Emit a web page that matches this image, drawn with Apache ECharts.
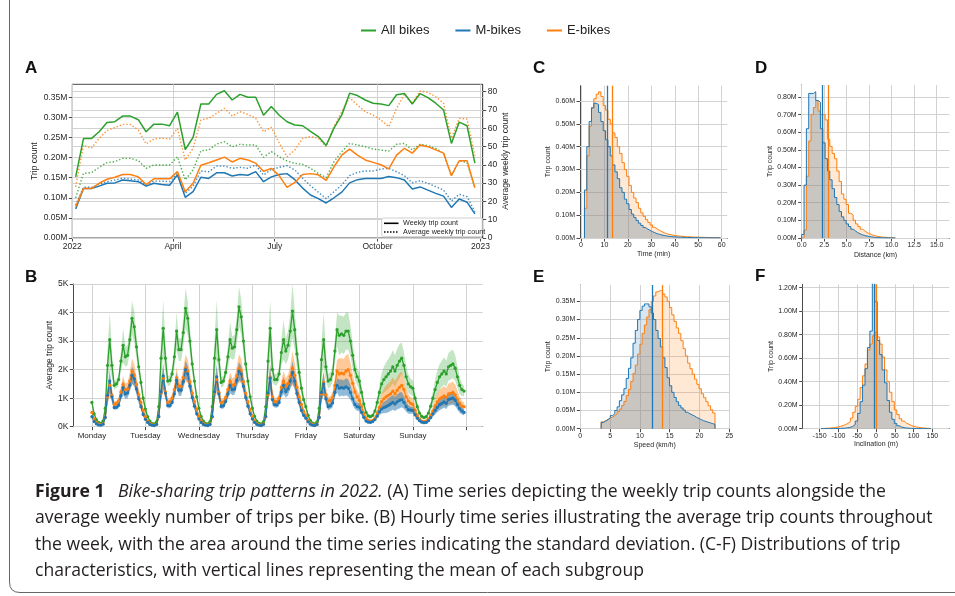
<!DOCTYPE html>
<html><head><meta charset="utf-8">
<script src="https://cdn.jsdelivr.net/npm/echarts@6.0.0/dist/echarts.min.js"></script>
<style>html,body{margin:0;padding:0;background:#fff}#c{width:955px;height:596px}</style>
</head><body><div id="c"></div>
<script>
// ---------------- Panel A: weekly series (week starting day offsets from 2022-01-01) ----------------
const weekFirstDay = 3;
const weekStepDays = 7;
const allWeekly = [0.152,0.247,0.247,0.264,0.287,0.289,0.303,0.303,0.294,0.264,0.283,0.283,0.279,0.313,0.220,0.250,0.333,0.333,0.357,0.366,0.343,0.357,0.350,0.350,0.305,0.327,0.305,0.289,0.281,0.279,0.265,0.252,0.230,0.273,0.306,0.360,0.354,0.343,0.335,0.333,0.329,0.356,0.359,0.333,0.359,0.349,0.335,0.318,0.235,0.288,0.279,0.186];
const mWeekly = [0.072,0.123,0.123,0.129,0.136,0.137,0.144,0.142,0.140,0.129,0.136,0.133,0.131,0.157,0.101,0.115,0.151,0.148,0.162,0.162,0.154,0.158,0.156,0.165,0.140,0.152,0.158,0.160,0.145,0.124,0.107,0.098,0.087,0.100,0.114,0.137,0.145,0.148,0.148,0.148,0.153,0.150,0.144,0.122,0.127,0.119,0.111,0.104,0.076,0.097,0.089,0.060];
const eWeekly = [0.078,0.123,0.123,0.136,0.146,0.151,0.158,0.158,0.152,0.133,0.147,0.147,0.147,0.165,0.115,0.136,0.181,0.187,0.194,0.201,0.189,0.198,0.194,0.186,0.166,0.173,0.155,0.126,0.138,0.158,0.160,0.157,0.143,0.177,0.206,0.221,0.206,0.194,0.188,0.182,0.172,0.206,0.223,0.211,0.231,0.227,0.219,0.211,0.155,0.192,0.192,0.125];
const allAvg = [22,35.3,35.7,38.6,41.2,41.7,43.5,43.5,42.3,38.1,39.9,39.9,39.9,44.4,31.7,37.2,47.7,48.1,51.4,52.6,49.9,51.2,50.8,50.8,44.1,47.2,44.4,42.1,40.8,40.3,38.1,35.3,33.0,41.7,47.2,51.7,50.8,49.9,48.6,48.1,47.5,51.2,51.7,48.1,51.2,50.5,49.0,46.3,34.1,42.1,41.3,27.5];
const mAvg = [18,27.7,27.7,29.3,30.8,31.7,32.6,32.2,31.7,29.0,31.1,31.1,30.8,35.3,24.4,28.4,36.6,36.2,39.3,39.3,38.1,38.6,38.1,39.9,34.4,37.5,38.6,39.5,37.2,32.6,28.6,25.0,21.5,25.3,29.0,34.1,35.9,36.6,36.6,37.7,38.1,36.2,34.1,30.2,31.3,29.9,28.1,26.2,20.2,23.9,22.6,14.4];
const eAvg = [28,50.8,49.0,54.5,58.7,60.3,62.1,62.1,59.0,51.4,54.1,54.5,54.1,59.9,42.6,49.0,64.5,65.4,68.1,70.9,66.7,69.0,67.6,65.4,58.1,60.5,52,44.4,48.1,54.5,55.4,54.5,49.9,60.8,69.0,76.7,72.7,69.0,67.2,64.5,60.8,70.9,78.5,73.6,80.3,79.6,77.2,73.6,54.5,65.4,65.0,45];
const aMonthTicks = [0,90,181,273,365];
const aMonthLabels = ['2022','April','July','October','2023'];
const aLeftTicks = [0,0.05,0.10,0.15,0.20,0.25,0.30,0.35];
const aRightTicks = [0,10,20,30,40,50,60,70,80];

// ---------------- Panel B: hourly averages over the week (thousands) ----------------
const dayNames = ['Monday','Tuesday','Wednesday','Thursday','Friday','Saturday','Sunday'];
const dayTickHours = [0,24,48,72,96,120,144,168];
const bYTicks = [0,1,2,3,4,5];
const allHourly = [
0.85,0.45,0.25,0.15,0.12,0.20,0.65,2.15,3.05,2.15,1.45,1.50,1.65,2.30,2.85,2.45,2.50,3.05,3.80,3.50,2.80,2.10,1.55,1.00,
0.62,0.35,0.20,0.12,0.10,0.17,0.70,2.40,3.45,2.40,1.60,1.62,1.85,2.45,3.35,2.70,2.70,3.30,4.15,3.80,3.00,2.20,1.60,1.05,
0.65,0.36,0.20,0.12,0.10,0.18,0.70,2.40,3.40,2.35,1.55,1.60,1.90,2.45,3.05,2.75,2.80,3.40,4.20,3.85,3.00,2.20,1.60,1.05,
0.65,0.36,0.20,0.12,0.10,0.18,0.70,2.30,3.45,2.00,1.65,1.65,1.85,2.60,3.05,2.65,2.85,3.35,4.05,3.40,2.55,1.90,1.35,0.95,
0.70,0.40,0.22,0.13,0.10,0.17,0.65,2.35,3.05,2.10,1.60,1.65,1.85,2.65,3.40,3.20,3.25,3.20,3.35,3.35,3.00,2.50,2.00,1.75,
1.60,1.20,0.80,0.50,0.38,0.35,0.40,0.55,0.85,1.20,1.50,1.65,1.75,1.85,1.95,2.10,1.95,2.15,2.30,2.40,2.15,1.75,1.50,1.40,
1.35,1.00,0.70,0.48,0.36,0.32,0.35,0.48,0.72,1.00,1.30,1.55,1.75,1.85,1.95,1.85,2.10,2.15,2.20,2.05,1.75,1.45,1.30,1.25];
const eHourly = [
0.50,0.27,0.15,0.09,0.07,0.10,0.32,1.05,1.45,1.10,0.78,0.82,0.90,1.22,1.48,1.30,1.32,1.60,1.95,1.82,1.48,1.12,0.85,0.57,
0.36,0.20,0.12,0.07,0.06,0.09,0.34,1.18,1.70,1.22,0.86,0.88,1.00,1.30,1.72,1.42,1.42,1.72,2.05,1.95,1.58,1.18,0.88,0.60,
0.37,0.21,0.12,0.07,0.06,0.10,0.34,1.18,1.65,1.20,0.84,0.87,1.02,1.30,1.60,1.45,1.48,1.78,2.05,1.95,1.58,1.18,0.88,0.60,
0.37,0.21,0.12,0.07,0.06,0.10,0.34,1.12,1.75,1.05,0.88,0.88,1.00,1.38,1.60,1.42,1.52,1.75,2.05,1.80,1.38,1.05,0.78,0.55,
0.40,0.23,0.13,0.08,0.06,0.09,0.32,1.15,1.55,1.12,0.90,0.92,1.02,1.45,1.95,1.85,1.88,1.85,1.95,2.00,1.80,1.52,1.22,1.05,
0.92,0.70,0.47,0.30,0.22,0.20,0.22,0.30,0.48,0.68,0.88,0.98,1.05,1.10,1.15,1.25,1.15,1.28,1.38,1.45,1.30,1.05,0.90,0.82,
0.78,0.58,0.40,0.27,0.20,0.18,0.20,0.27,0.40,0.55,0.73,0.87,0.98,1.03,1.08,1.03,1.15,1.17,1.20,1.12,0.97,0.82,0.72,0.70];
const mHourly = [
0.35,0.18,0.10,0.06,0.05,0.09,0.33,1.10,1.60,1.05,0.67,0.68,0.75,1.08,1.37,1.15,1.18,1.45,1.80,1.68,1.32,0.98,0.70,0.43,
0.26,0.15,0.08,0.05,0.04,0.08,0.36,1.22,1.78,1.18,0.74,0.74,0.85,1.15,1.63,1.28,1.28,1.58,2.00,1.85,1.42,1.02,0.72,0.45,
0.27,0.15,0.08,0.05,0.04,0.08,0.36,1.22,1.75,1.15,0.71,0.73,0.88,1.15,1.45,1.30,1.32,1.62,1.95,1.85,1.42,1.02,0.72,0.45,
0.27,0.15,0.08,0.05,0.04,0.08,0.36,1.18,1.70,0.95,0.77,0.76,0.85,1.22,1.45,1.23,1.33,1.60,1.90,1.60,1.17,0.85,0.57,0.40,
0.30,0.17,0.09,0.05,0.04,0.08,0.33,1.20,1.50,0.98,0.70,0.73,0.83,1.20,1.45,1.35,1.37,1.35,1.40,1.35,1.20,0.98,0.78,0.70,
0.68,0.50,0.33,0.20,0.16,0.15,0.18,0.25,0.37,0.52,0.62,0.67,0.70,0.75,0.80,0.85,0.80,0.87,0.92,0.95,0.85,0.70,0.60,0.58,
0.57,0.42,0.30,0.21,0.16,0.14,0.15,0.21,0.32,0.45,0.57,0.68,0.77,0.82,0.87,0.82,0.95,0.98,1.00,0.93,0.78,0.63,0.55,0.50];
const allStd = [
0.10,0.06,0.04,0.03,0.03,0.05,0.15,0.55,0.95,0.45,0.15,0.15,0.18,0.35,0.60,0.35,0.35,0.45,0.60,0.55,0.40,0.30,0.22,0.15,
0.08,0.05,0.03,0.02,0.02,0.05,0.18,0.65,1.00,0.50,0.18,0.18,0.22,0.40,0.65,0.40,0.40,0.50,0.70,0.60,0.45,0.32,0.22,0.15,
0.08,0.05,0.03,0.02,0.02,0.05,0.18,0.65,1.05,0.50,0.18,0.18,0.22,0.40,0.62,0.40,0.42,0.50,0.70,0.62,0.45,0.32,0.22,0.15,
0.08,0.05,0.03,0.02,0.02,0.05,0.18,0.65,1.00,0.45,0.20,0.20,0.24,0.45,0.70,0.45,0.50,0.60,0.95,0.70,0.50,0.35,0.25,0.18,
0.10,0.06,0.04,0.03,0.02,0.05,0.16,0.60,0.95,0.50,0.25,0.25,0.30,0.40,0.60,0.70,0.65,0.65,0.65,0.65,0.55,0.45,0.35,0.30,
0.30,0.25,0.18,0.12,0.08,0.06,0.07,0.10,0.18,0.28,0.38,0.45,0.50,0.52,0.55,0.58,0.55,0.58,0.60,0.55,0.45,0.38,0.32,0.28,
0.28,0.22,0.16,0.10,0.07,0.06,0.07,0.10,0.16,0.25,0.35,0.42,0.45,0.46,0.48,0.45,0.48,0.50,0.50,0.45,0.38,0.30,0.22,0.18];
const eStd = [
0.07,0.04,0.03,0.02,0.02,0.03,0.08,0.25,0.38,0.22,0.10,0.10,0.12,0.20,0.30,0.22,0.22,0.30,0.45,0.38,0.28,0.20,0.14,0.10,
0.06,0.04,0.02,0.02,0.01,0.03,0.09,0.30,0.45,0.25,0.12,0.12,0.15,0.22,0.35,0.25,0.25,0.32,0.48,0.40,0.30,0.22,0.15,0.10,
0.06,0.04,0.02,0.02,0.01,0.03,0.09,0.30,0.45,0.25,0.12,0.12,0.15,0.22,0.32,0.25,0.26,0.32,0.50,0.42,0.30,0.22,0.15,0.10,
0.06,0.04,0.02,0.02,0.01,0.03,0.09,0.30,0.45,0.25,0.13,0.13,0.16,0.25,0.35,0.28,0.30,0.38,0.60,0.45,0.32,0.24,0.17,0.12,
0.07,0.04,0.03,0.02,0.01,0.03,0.08,0.28,0.42,0.25,0.15,0.16,0.20,0.28,0.40,0.55,0.52,0.52,0.55,0.55,0.45,0.35,0.28,0.24,
0.22,0.18,0.12,0.08,0.05,0.04,0.05,0.07,0.12,0.20,0.28,0.35,0.40,0.42,0.45,0.48,0.45,0.47,0.50,0.48,0.40,0.32,0.25,0.22,
0.20,0.15,0.10,0.07,0.05,0.04,0.05,0.07,0.11,0.17,0.24,0.30,0.32,0.33,0.35,0.32,0.36,0.37,0.38,0.35,0.30,0.24,0.18,0.15];
const mStd = [
0.05,0.03,0.02,0.01,0.01,0.02,0.08,0.28,0.40,0.20,0.08,0.08,0.10,0.16,0.25,0.18,0.18,0.22,0.30,0.26,0.20,0.15,0.10,0.07,
0.04,0.03,0.02,0.01,0.01,0.02,0.09,0.32,0.45,0.22,0.09,0.09,0.11,0.18,0.28,0.20,0.20,0.25,0.32,0.28,0.22,0.16,0.11,0.07,
0.04,0.03,0.02,0.01,0.01,0.02,0.09,0.32,0.45,0.22,0.09,0.09,0.11,0.18,0.28,0.20,0.20,0.25,0.32,0.28,0.22,0.16,0.11,0.07,
0.04,0.03,0.02,0.01,0.01,0.02,0.09,0.32,0.45,0.22,0.10,0.10,0.12,0.20,0.30,0.22,0.24,0.28,0.38,0.30,0.22,0.16,0.11,0.08,
0.05,0.03,0.02,0.01,0.01,0.02,0.08,0.30,0.40,0.22,0.12,0.12,0.15,0.18,0.25,0.30,0.28,0.28,0.30,0.30,0.25,0.20,0.16,0.14,
0.14,0.11,0.08,0.05,0.03,0.02,0.03,0.05,0.08,0.12,0.16,0.20,0.22,0.24,0.25,0.26,0.25,0.26,0.28,0.27,0.22,0.18,0.15,0.13,
0.12,0.09,0.07,0.05,0.03,0.02,0.03,0.05,0.07,0.10,0.14,0.17,0.19,0.20,0.21,0.20,0.22,0.23,0.23,0.21,0.18,0.14,0.12,0.11];

// ---------------- Panels C-F: histograms (millions of trips per bin) ----------------
const timeBinStart = 1.5, timeBinWidth = 1;
const timeM = [0.21,0.40,0.51,0.57,0.59,0.585,0.55,0.51,0.47,0.43,0.40,0.36,0.32,0.29,0.26,0.22,0.20,0.17,0.15,0.125,0.105,0.09,0.077,0.065,0.055,0.046,0.039,0.033,0.028,0.023,0.019,0.016,0.013,0.011,0.009,0.0075,0.0065,0.0055,0.0047,0.004,0.0035,0.003,0.0026,0.0023,0.002,0.0018,0.0016,0.0014,0.0013,0.0012,0.0011,0.001,0.0009,0.0008,0.0008,0.0007,0.0007,0.0006];
const timeE = [0.13,0.36,0.49,0.57,0.61,0.63,0.64,0.62,0.58,0.56,0.52,0.50,0.46,0.44,0.40,0.37,0.33,0.30,0.27,0.23,0.20,0.175,0.155,0.13,0.11,0.095,0.08,0.068,0.057,0.047,0.04,0.033,0.028,0.023,0.019,0.016,0.014,0.012,0.01,0.009,0.008,0.007,0.006,0.0055,0.005,0.0045,0.004,0.0037,0.0034,0.003,0.0028,0.0025,0.0023,0.0021,0.002,0.0018,0.0017,0.0015];
const timeMeans = {m: 11.3, e: 13.3};
const timeXTicks = [0,10,20,30,40,50,60];
const timeYTicks = [0,0.1,0.2,0.3,0.4,0.5,0.6];

const distBinStart = 0, distBinWidth = 0.26;
const distM = [0.02,0.30,0.62,0.82,0.82,0.83,0.78,0.77,0.62,0.54,0.45,0.38,0.33,0.28,0.23,0.19,0.15,0.12,0.10,0.08,0.065,0.05,0.04,0.03,0.024,0.018,0.014,0.011,0.008,0.006,0.004,0.003,0.002,0.0015,0.001,0.0008,0.0006,0.0005,0.0004,0.0003];
const distE = [0,0.045,0.35,0.55,0.70,0.74,0.78,0.72,0.70,0.70,0.67,0.56,0.52,0.48,0.45,0.38,0.32,0.25,0.22,0.19,0.14,0.13,0.10,0.08,0.065,0.05,0.04,0.03,0.025,0.018,0.014,0.011,0.008,0.006,0.0045,0.0035,0.0025,0.002,0.0015,0.001];
const distMeans = {m: 2.26, e: 2.96};
const distXTicks = [0,2.5,5,7.5,10,12.5,15];
const distYTicks = [0,0.1,0.2,0.3,0.4,0.5,0.6,0.7,0.8];

const speedBinStart = 3.5, speedBinWidth = 0.382;
const speedM = [0.017,0.021,0.025,0.03,0.036,0.041,0.05,0.06,0.077,0.093,0.11,0.138,0.166,0.195,0.235,0.27,0.30,0.325,0.337,0.343,0.343,0.335,0.318,0.30,0.27,0.248,0.225,0.195,0.168,0.14,0.118,0.10,0.086,0.074,0.064,0.057,0.051,0.045,0.041,0.038,0.035,0.031,0.028,0.025,0.022,0.02,0.018,0.016,0.014,0.012];
const speedE = [0.019,0.022,0.025,0.029,0.032,0.036,0.041,0.047,0.054,0.064,0.075,0.091,0.108,0.13,0.152,0.175,0.205,0.232,0.262,0.285,0.307,0.327,0.35,0.365,0.376,0.38,0.378,0.37,0.362,0.35,0.333,0.313,0.295,0.277,0.262,0.242,0.22,0.20,0.18,0.165,0.15,0.136,0.122,0.11,0.096,0.085,0.074,0.063,0.052,0.043];
const speedMeans = {m: 12.1, e: 13.8};
const speedXTicks = [0,5,10,15,20,25];
const speedYTicks = [0,0.05,0.10,0.15,0.20,0.25,0.30,0.35];

const inclBinStart = -146.25, inclBinWidth = 6.5;
const inclM = [0.0005,0.0006,0.0008,0.001,0.0013,0.0017,0.0022,0.003,0.004,0.0055,0.008,0.012,0.02,0.035,0.065,0.13,0.23,0.37,0.51,0.69,0.83,1.35,1.08,0.75,0.63,0.50,0.39,0.24,0.14,0.08,0.045,0.025,0.014,0.009,0.006,0.004,0.003,0.002,0.0015,0.001,0.0008,0.0006,0.0005,0.0004,0.0003];
const inclE = [0.002,0.003,0.004,0.006,0.008,0.011,0.015,0.02,0.026,0.035,0.045,0.06,0.09,0.14,0.19,0.25,0.35,0.45,0.55,0.67,0.72,0.79,0.82,0.78,0.72,0.61,0.50,0.40,0.31,0.23,0.16,0.12,0.085,0.065,0.048,0.037,0.027,0.02,0.015,0.011,0.008,0.006,0.004,0.003,0.002];
const inclMeans = {m: -3.5, e: 1.5};
const inclXTicks = [-150,-100,-50,0,50,100,150];
const inclYTicks = [0,0.2,0.4,0.6,0.8,1.0,1.2];

// ---------------- rendering ----------------
const GREEN = '#2ca02c', BLUE = '#1f77b4', ORANGE = '#ff7f0e';
const FONT = '"Liberation Sans", Arial, Helvetica, sans-serif';
const CAPFONT = '"Open Sans", "Noto Sans", sans-serif';
const CAPSIZE = 17.6;
const AX = '#4a4a4a', TXT = '#262626', GRIDC = '#d2d2d2';

const chart = echarts.init(document.getElementById('c'), null, {renderer: 'canvas', width: 955, height: 596});

function pairs(xs, ys) { return ys.map((y, i) => [xs[i], y]); }
const weekX = allWeekly.map((_, k) => weekFirstDay + k * weekStepDays);
const hours = allHourly.map((_, i) => i);

function axis(gi, min, max, tickVals, labelVals, fmt, fs, margin, extra) {
  return Object.assign({
    type: 'value', gridIndex: gi, min: min, max: max,
    axisLine: {show: true, onZero: false, lineStyle: {color: AX, width: 1}},
    axisTick: {show: true, customValues: tickVals, length: 3.5, lineStyle: {color: AX, width: 1}},
    axisLabel: {show: true, customValues: labelVals, formatter: fmt, fontSize: fs, color: TXT, fontFamily: FONT, margin: margin},
    splitLine: {show: false},
    nameTextStyle: {fontSize: fs, color: TXT, fontFamily: FONT}
  }, extra || {});
}
function gridML(xs, ys) {
  const data = [];
  (xs || []).forEach(v => data.push({xAxis: v}));
  (ys || []).forEach(v => data.push({yAxis: v}));
  return {silent: true, symbol: ['none', 'none'], z: 1, animation: false, label: {show: false},
    emphasis: {disabled: true}, lineStyle: {color: GRIDC, width: 1, type: 'solid', opacity: 1}, data: data};
}
function meanML(v, color) {
  return {silent: true, symbol: ['none', 'none'], animation: false, label: {show: false},
    emphasis: {disabled: true}, lineStyle: {color: color, width: 1.3, type: 'solid', opacity: 1}, data: [{xAxis: v}]};
}
function stepData(start, width, h) {
  const d = [[start, 0]];
  for (let k = 0; k < h.length; k++) d.push([start + k * width, h[k]]);
  d.push([start + h.length * width, h[h.length - 1]]);
  d.push([start + h.length * width, 0]);
  return d;
}
function histSeries(xi, yi, start, width, mH, eH, means, xT, yT) {
  const ov = mH.map((v, i) => Math.min(v, eH[i]));
  const base = {type: 'line', xAxisIndex: xi, yAxisIndex: yi, step: 'end', symbol: 'none', showSymbol: false, silent: true, animation: false};
  const noLine = {width: 0, opacity: 0};
  return [
    Object.assign({}, base, {data: stepData(start, width, mH), lineStyle: noLine, areaStyle: {color: 'rgba(31,119,180,0.26)'}, z: 2, markLine: gridML(xT, yT)}),
    Object.assign({}, base, {data: stepData(start, width, eH), lineStyle: noLine, areaStyle: {color: 'rgba(255,127,14,0.26)'}, z: 2}),
    Object.assign({}, base, {data: stepData(start, width, ov), lineStyle: noLine, areaStyle: {color: 'rgba(128,148,172,0.32)'}, z: 2}),
    Object.assign({}, base, {data: stepData(start, width, eH), lineStyle: {width: 1, color: ORANGE}, z: 3, markLine: meanML(means.e, ORANGE)}),
    Object.assign({}, base, {data: stepData(start, width, mH), lineStyle: {width: 1, color: BLUE}, z: 3, markLine: meanML(means.m, BLUE)})
  ];
}
function bandSeries(mean, std, color) {
  return {type: 'custom', xAxisIndex: 1, yAxisIndex: 2, silent: true, z: 2, animation: false, data: [[0, 0]],
    renderItem: function (params, api) {
      const up = [], lo = [];
      for (let i = 0; i < mean.length; i++) {
        up.push(api.coord([hours[i], mean[i] + std[i]]));
        lo.push(api.coord([hours[i], Math.max(0, mean[i] - std[i])]));
      }
      return {type: 'polygon', shape: {points: up.concat(lo.reverse())}, style: {fill: color}};
    }};
}
function hourLine(name, vals, color) {
  return {type: 'line', name: name, xAxisIndex: 1, yAxisIndex: 2, data: pairs(hours, vals), symbol: 'circle', symbolSize: 3.2,
    showSymbol: true, lineStyle: {width: 1.3, color: color}, itemStyle: {color: color}, z: 4, silent: true, animation: false};
}
function weekLine(vals, yi, color, dotted, withGrid) {
  const s = {type: 'line', xAxisIndex: 0, yAxisIndex: yi, data: pairs(weekX, vals), symbol: 'none', silent: true, animation: false, z: 3,
    lineStyle: dotted ? {width: 1.4, color: color, type: [1.4, 2.0], opacity: 0.85} : {width: 1.5, color: color}};
  if (withGrid) s.markLine = withGrid;
  return s;
}

const fmtM = v => v.toFixed(2) + 'M';
const series = [
  weekLine(mAvg, 1, BLUE, true, gridML(null, aRightTicks)),
  weekLine(allAvg, 1, GREEN, true),
  weekLine(eAvg, 1, ORANGE, true),
  weekLine(mWeekly, 0, BLUE, false, gridML(aMonthTicks, aLeftTicks)),
  weekLine(eWeekly, 0, ORANGE, false),
  weekLine(allWeekly, 0, GREEN, false),
  Object.assign(bandSeries(allHourly, allStd, 'rgba(44,160,44,0.28)'), {markLine: gridML(dayTickHours, bYTicks)}),
  bandSeries(eHourly, eStd, 'rgba(255,127,14,0.42)'),
  bandSeries(mHourly, mStd, 'rgba(31,119,180,0.5)'),
  hourLine('All bikes', allHourly, GREEN),
  hourLine('E-bikes', eHourly, ORANGE),
  hourLine('M-bikes', mHourly, BLUE)
].concat(
  histSeries(2, 3, timeBinStart, timeBinWidth, timeM, timeE, timeMeans, timeXTicks, timeYTicks),
  histSeries(3, 4, distBinStart, distBinWidth, distM, distE, distMeans, distXTicks, distYTicks),
  histSeries(4, 5, speedBinStart, speedBinWidth, speedM, speedE, speedMeans, speedXTicks, speedYTicks),
  histSeries(5, 6, inclBinStart, inclBinWidth, inclM, inclE, inclMeans, inclXTicks, inclYTicks)
);

function capLine(y, text) {
  return {type: 'text', silent: true, x: 35, y: y, style: {text: text, font: CAPSIZE + 'px ' + CAPFONT, fill: '#231f20', verticalAlign: 'middle'}};
}

const option = {
  animation: false,
  backgroundColor: '#ffffff',
  textStyle: {fontFamily: FONT},
  legend: {left: 356, top: 19, itemWidth: 15, itemHeight: 2, itemGap: 26, icon: 'rect', selectedMode: false,
    textStyle: {fontSize: 13, color: '#222', fontFamily: FONT}, data: ['All bikes', 'M-bikes', 'E-bikes']},
  grid: [
    {left: 72.3, top: 84.3, width: 410.4, height: 153.7, show: true, borderColor: AX, borderWidth: 1, backgroundColor: 'transparent'},
    {left: 73.3, top: 284, width: 409.4, height: 142.7},
    {left: 580, top: 85.7, width: 147.3, height: 152.3},
    {left: 801.7, top: 85, width: 147.6, height: 153},
    {left: 580.3, top: 285, width: 149, height: 143.7},
    {left: 802.7, top: 284.3, width: 146.6, height: 144.4}
  ],
  xAxis: [
    axis(0, 0, 367, aMonthTicks, aMonthTicks, v => aMonthLabels[aMonthTicks.indexOf(v)], 8.5, 4),
    axis(1, -8.35, 175.35, dayTickHours, dayTickHours.slice(0, 7), v => dayNames[Math.round(v / 24)] || '', 8, 5),
    axis(2, -0.4, 62.4, timeXTicks, timeXTicks, v => String(v), 7, 4, {name: 'Time (min)', nameLocation: 'middle', nameGap: 13}),
    axis(3, 0, 16.4, distXTicks, distXTicks, v => v.toFixed(1), 7, 4, {name: 'Distance (km)', nameLocation: 'middle', nameGap: 14}),
    axis(4, 0, 25, speedXTicks, speedXTicks, v => String(v), 7, 4, {name: 'Speed (km/h)', nameLocation: 'middle', nameGap: 13}),
    axis(5, -195, 195, inclXTicks, inclXTicks, v => String(v), 7, 4, {name: 'Inclination (m)', nameLocation: 'middle', nameGap: 12})
  ],
  yAxis: [
    axis(0, 0, 0.382, aLeftTicks, aLeftTicks, fmtM, 8.5, 5, {name: 'Trip count', nameLocation: 'middle', nameGap: 33, nameRotate: 90}),
    axis(0, 0, 84, aRightTicks, aRightTicks, v => String(v), 8.5, 5, {position: 'right', name: 'Average weekly trip count', nameLocation: 'middle', nameGap: 15, nameRotate: 90}),
    axis(1, 0, 5, bYTicks, bYTicks, v => v + 'K', 8.5, 5, {name: 'Average trip count', nameLocation: 'middle', nameGap: 17, nameRotate: 90}),
    axis(2, 0, 0.667, timeYTicks, timeYTicks, fmtM, 7, 5, {name: 'Trip count', nameLocation: 'middle', nameGap: 28, nameRotate: 90}),
    axis(3, 0, 0.868, distYTicks, distYTicks, fmtM, 7, 5, {name: 'Trip count', nameLocation: 'middle', nameGap: 28, nameRotate: 90}),
    axis(4, 0, 0.395, speedYTicks, speedYTicks, fmtM, 7, 5, {name: 'Trip count', nameLocation: 'middle', nameGap: 28, nameRotate: 90}),
    axis(5, 0, 1.228, inclYTicks, inclYTicks, fmtM, 7, 5, {name: 'Trip count', nameLocation: 'middle', nameGap: 28, nameRotate: 90})
  ],
  series: series,
  graphic: [
    {type: 'line', silent: true, shape: {x1: 9.5, y1: 0, x2: 9.5, y2: 582}, style: {stroke: '#666', lineWidth: 1}},
    {type: 'bezierCurve', silent: true, shape: {x1: 9.5, y1: 582, cpx1: 9.5, cpy1: 592.5, x2: 20, y2: 592.5}, style: {stroke: '#666', lineWidth: 1, fill: null}},
    {type: 'line', silent: true, shape: {x1: 20, y1: 592.5, x2: 955, y2: 592.5}, style: {stroke: '#666', lineWidth: 1}},
    {type: 'text', x: 25, y: 68, silent: true, style: {text: 'A', font: 'bold 17px ' + FONT, fill: '#111', verticalAlign: 'middle'}},
    {type: 'text', x: 25, y: 277, silent: true, style: {text: 'B', font: 'bold 17px ' + FONT, fill: '#111', verticalAlign: 'middle'}},
    {type: 'text', x: 533, y: 68, silent: true, style: {text: 'C', font: 'bold 17px ' + FONT, fill: '#111', verticalAlign: 'middle'}},
    {type: 'text', x: 755, y: 68, silent: true, style: {text: 'D', font: 'bold 17px ' + FONT, fill: '#111', verticalAlign: 'middle'}},
    {type: 'text', x: 533, y: 277, silent: true, style: {text: 'E', font: 'bold 17px ' + FONT, fill: '#111', verticalAlign: 'middle'}},
    {type: 'text', x: 755, y: 276, silent: true, style: {text: 'F', font: 'bold 17px ' + FONT, fill: '#111', verticalAlign: 'middle'}},
    {type: 'rect', silent: true, shape: {x: 381.7, y: 218, width: 100.5, height: 18.7, r: 2}, style: {fill: '#fff', stroke: '#d0d0d0', lineWidth: 1}, z: 100},
    {type: 'line', silent: true, shape: {x1: 384, y1: 223.3, x2: 398.5, y2: 223.3}, style: {stroke: '#000', lineWidth: 1.6}, z: 101},
    {type: 'line', silent: true, shape: {x1: 384, y1: 232, x2: 398.5, y2: 232}, style: {stroke: '#000', lineWidth: 1.6, lineDash: [1.5, 1.5]}, z: 101},
    {type: 'text', silent: true, x: 403, y: 223.3, z: 101, style: {text: 'Weekly trip count', font: '7.2px ' + FONT, fill: '#222', verticalAlign: 'middle'}},
    {type: 'text', silent: true, x: 403, y: 232, z: 101, style: {text: 'Average weekly trip count', font: '7.2px ' + FONT, fill: '#222', verticalAlign: 'middle'}},
    {type: 'text', silent: true, x: 35, y: 492, style: {
      text: '{b|Figure 1}\u2002 {i|Bike-sharing trip patterns in 2022.} (A) Time series depicting the weekly trip counts alongside the',
      font: CAPSIZE + 'px ' + CAPFONT, fill: '#231f20', verticalAlign: 'middle',
      rich: {b: {fontWeight: 'bold', fontSize: CAPSIZE, fontFamily: CAPFONT, fill: '#231f20'}, i: {fontStyle: 'italic', fontSize: CAPSIZE, fontFamily: CAPFONT, fill: '#231f20'}}}},
    capLine(518, 'average weekly number of trips per bike. (B) Hourly time series illustrating the average trip counts throughout'),
    capLine(545, 'the week, with the area around the time series indicating the standard deviation. (C-F) Distributions of trip'),
    capLine(571, 'characteristics, with vertical lines representing the mean of each subgroup')
  ]
};
chart.setOption(option);
</script></body></html>
